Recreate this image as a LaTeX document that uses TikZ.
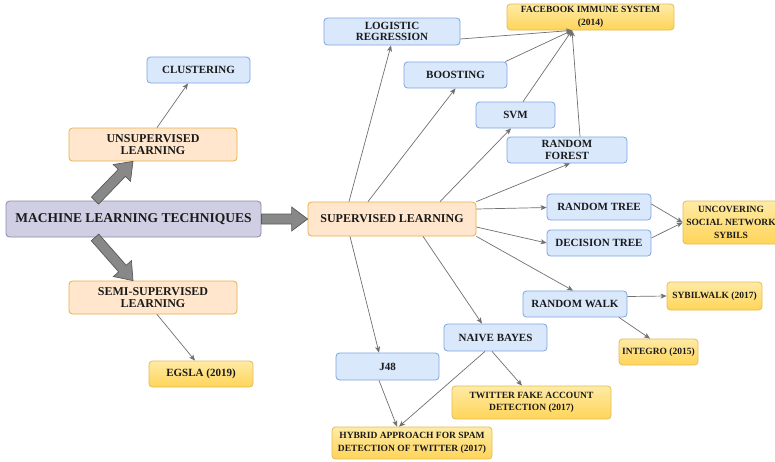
\documentclass[tikz,border=0pt]{standalone}
\usepackage{fontspec}
\setmainfont{Liberation Serif}
\usetikzlibrary{calc,arrows.meta}

\definecolor{bluefill}{HTML}{DAE8FC}
\definecolor{blueline}{HTML}{7EA6E0}
\definecolor{orangefill}{HTML}{FFE6CC}
\definecolor{orangeline}{HTML}{E8B04A}
\definecolor{yellowtop}{HTML}{FFEBA6}
\definecolor{yellowbot}{HTML}{FFD458}
\definecolor{yellowline}{HTML}{E3BD55}
\definecolor{purplefill}{HTML}{D0CEE2}
\definecolor{purpleline}{HTML}{8C88AE}
\definecolor{edgegray}{HTML}{707070}
\definecolor{arrowfill}{HTML}{888888}
\definecolor{arrowline}{HTML}{5A5A5A}
\definecolor{textdark}{HTML}{1A1A1A}

\tikzset{
  box/.style={draw, rounded corners=3.5pt, line width=0.8pt, align=center,
    inner sep=0pt, text=textdark},
  bluebox/.style={box, fill=bluefill, draw=blueline, minimum height=26pt,
    font=\bfseries\fontsize{11}{11.2}\selectfont},
  orangebox/.style={box, fill=orangefill, draw=orangeline,
    font=\bfseries\fontsize{12}{12.7}\selectfont},
  yellowbox/.style={box, top color=yellowtop, bottom color=yellowbot,
    draw=yellowline, minimum height=26pt,
    font=\bfseries\fontsize{9.5}{12.7}\selectfont},
  purplebox/.style={box, fill=purplefill, draw=purpleline,
    font=\bfseries\fontsize{13.5}{14}\selectfont},
  link/.style={draw=edgegray, line width=0.7pt,
    -{Stealth[length=6pt,width=5pt,inset=1.5pt]}},
  bigarrow/.style={fill=arrowfill, draw=arrowline, line width=0.7pt,
    line join=miter},
}

% thick block arrow from #1 to #2
\newcommand\bigarrowpath[2]{%
  \coordinate (ba-s) at (#1);
  \coordinate (ba-t) at (#2);
  \coordinate (ba-h) at ($(ba-t)!16pt!(ba-s)$);
  \draw[bigarrow] ($(ba-s)!5pt!90:(ba-t)$) -- ($(ba-h)!5pt!90:(ba-t)$)
    -- ($(ba-h)!12pt!90:(ba-t)$) -- (ba-t) -- ($(ba-h)!12pt!-90:(ba-t)$)
    -- ($(ba-h)!5pt!-90:(ba-t)$) -- ($(ba-s)!5pt!-90:(ba-t)$) -- cycle;
}

\begin{document}
\begin{tikzpicture}[x=1pt, y=-1pt]
  \useasboundingbox[fill=white] (0,0) rectangle (775,461);

  % root and learning families
  \node[purplebox, minimum width=255pt, minimum height=36pt] (mlt) at (133.5,219) {MACHINE LEARNING TECHNIQUES};
  \node[orangebox, minimum width=168pt, minimum height=33pt] (unsup) at (153,144.5) {UNSUPERVISED\\LEARNING};
  \node[orangebox, minimum width=168pt, minimum height=33pt] (semi) at (153,297.5) {SEMI-SUPERVISED\\LEARNING};
  \node[orangebox, minimum width=168pt, minimum height=34pt] (sup) at (392,219) {SUPERVISED LEARNING};

  % algorithms
  \node[bluebox, minimum width=103pt] (clus) at (198.5,70) {CLUSTERING};
  \node[bluebox, minimum width=136pt, minimum height=27pt] (lr) at (392,31.5) {LOGISTIC\\REGRESSION};
  \node[bluebox, minimum width=103pt] (boost) at (455.5,75) {BOOSTING};
  \node[bluebox, minimum width=79pt] (svm) at (515.5,115) {SVM};
  \node[bluebox, minimum width=120pt] (rf) at (567,150) {RANDOM\\FOREST};
  \node[bluebox, minimum width=104pt] (rt) at (599,207) {RANDOM TREE};
  \node[bluebox, minimum width=104pt] (dt) at (599,243) {DECISION TREE};
  \node[bluebox, minimum width=104pt] (rw) at (575,304) {RANDOM WALK};
  \node[bluebox, minimum width=103pt, minimum height=27pt] (nb) at (495.5,337.5) {NAIVE BAYES};
  \node[bluebox, minimum width=103pt, minimum height=27pt] (j48) at (387.5,366.5) {J48};

  % published systems
  \node[yellowbox, minimum width=104pt, font=\bfseries\fontsize{11}{12}\selectfont] (egsla) at (201,374) {EGSLA (2019)};
  \node[yellowbox, minimum width=167pt] (fb) at (590.5,17) {FACEBOOK IMMUNE SYSTEM\\(2014)};
  \node[yellowbox, minimum width=96pt, minimum height=43pt] (unc) at (731,222.5) {UNCOVERING\\SOCIAL NETWORK\\SYBILS};
  \node[yellowbox, minimum width=95pt, minimum height=28pt] (sybw) at (714.5,296) {SYBILWALK (2017)};
  \node[yellowbox, minimum width=79pt] (integro) at (658.5,352) {INTEGRO (2015)};
  \node[yellowbox, minimum width=159pt, minimum height=33pt] (tfa) at (531.5,402.5) {TWITTER FAKE ACCOUNT\\DETECTION (2017)};
  \node[yellowbox, minimum width=160pt, minimum height=32pt] (hyb) at (412,443) {HYBRID APPROACH FOR SPAM\\DETECTION OF TWITTER (2017)};

  % block arrows out of the root
  \bigarrowpath{mlt.east}{sup.west}
  \bigarrowpath{[xshift=-38.5pt]mlt.north}{[xshift=-20pt]unsup.south}
  \bigarrowpath{[xshift=-38.5pt]mlt.south}{[xshift=-20pt]semi.north}

  % unsupervised / semi-supervised
  \draw[link] ([xshift=4pt]unsup.north) -- ([xshift=-10.5pt]clus.south);
  \draw[link] ([xshift=4pt]semi.south) -- ([xshift=-6pt]egsla.north);

  % supervised learning branches
  \draw[link] ([xshift=-43pt]sup.north) -- ([xshift=-1pt]lr.south);
  \draw[link] ([xshift=-24pt]sup.north) -- (boost.south);
  \draw[link] ([xshift=48pt]sup.north) -- ([xshift=-4.5pt]svm.south);
  \draw[link] (sup.north east) -- ([xshift=3pt]rf.south);
  \draw[link] ([yshift=10pt]sup.east) -- ([yshift=-0.5pt]rt.west);
  \draw[link] ([yshift=-8pt]sup.east) -- (dt.west);
  \draw[link] (sup.south east) -- ([xshift=-2pt]rw.north);
  \draw[link] ([xshift=31pt]sup.south) -- ([xshift=-13.5pt]nb.north);
  \draw[link] ([xshift=-42pt]sup.south) -- ([xshift=-8.5pt]j48.north);

  % algorithms into systems
  \draw[link] ([yshift=-7.5pt]lr.east) -- ([xshift=-18.5pt]fb.south);
  \draw[link] ([xshift=-2pt]boost.north east) -- ([xshift=-18.5pt]fb.south);
  \draw[link] ([xshift=7.5pt]svm.north) -- ([xshift=-18.5pt]fb.south);
  \draw[link] ([xshift=13pt]rf.north) -- ([xshift=-18.5pt]fb.south);
  \draw[link] ([yshift=3pt]rt.east) -- (unc.west);
  \draw[link] ([yshift=5pt]dt.east) -- (unc.west);
  \draw[link] ([yshift=7.5pt]rw.east) -- (sybw.west);
  \draw[link] ([xshift=44pt]rw.south) -- ([xshift=-8.5pt]integro.north);
  \draw[link] ([xshift=-3.5pt]nb.south) -- ([xshift=-9.5pt]tfa.north);
  \draw[link] ([xshift=-10.5pt]nb.south) -- ([xshift=-13pt]hyb.north);
  \draw[link] ([xshift=-8.5pt]j48.south) -- ([xshift=-15pt]hyb.north);
\end{tikzpicture}
\end{document}
